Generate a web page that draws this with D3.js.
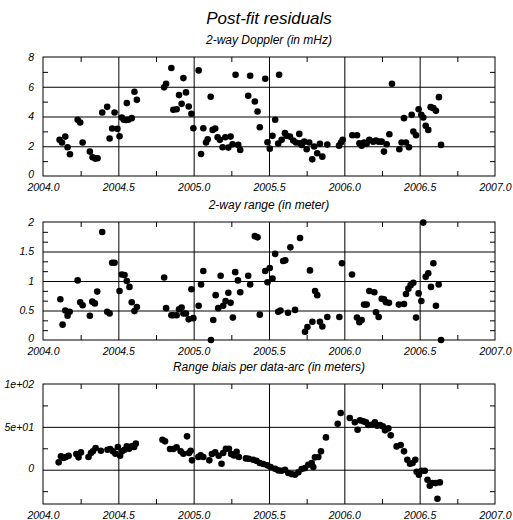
<!DOCTYPE html>
<html>
<head>
<meta charset="utf-8">
<script src="https://cdn.jsdelivr.net/npm/d3@7"></script>
<style>
  body { margin: 0; background: #fff; }
  text { font-family: "Liberation Sans", Arial, sans-serif; font-style: italic; fill: #000; }
</style>
</head>
<body>
<svg id="chart" width="513" height="520"></svg>
<script>
// 2-way Doppler residuals (mHz)
var dopplerT = [2004.110,2004.126,2004.148,2004.163,2004.179,2004.230,2004.247,2004.263,2004.311,2004.329,2004.347,2004.362,
  2004.393,2004.426,2004.442,2004.459,2004.475,2004.494,2004.508,2004.523,2004.536,2004.556,2004.552,2004.567,2004.589,2004.607,2004.623,
  2004.804,2004.817,2004.852,2004.865,2004.887,2004.903,2004.920,2004.932,2004.949,2004.967,2004.985,2004.998,
  2005.033,2005.049,2005.064,2005.082,2005.093,2005.113,2005.126,2005.143,2005.159,2005.174,2005.192,2005.210,2005.230,2005.245,2005.258,
  2005.278,2005.296,2005.309,2005.362,2005.375,2005.406,2005.424,2005.439,2005.475,2005.490,2005.505,2005.523,2005.541,2005.561,2005.567,
  2005.584,2005.606,2005.617,2005.639,2005.661,2005.679,2005.701,2005.706,2005.717,2005.734,2005.750,2005.767,2005.787,2005.800,2005.820,
  2005.838,2005.854,2005.887,2005.965,2005.978,2005.989,2006.053,2006.084,2006.100,2006.115,2006.131,2006.148,2006.166,2006.192,2006.210,
  2006.228,2006.248,2006.263,2006.281,2006.299,2006.316,2006.365,2006.380,2006.396,2006.409,2006.429,2006.447,2006.458,2006.476,2006.493,
  2006.511,2006.524,2006.540,2006.557,2006.573,2006.591,2006.608,2006.628,2006.642];
var dopplerV = [2.43,2.25,2.65,1.93,1.46,3.78,3.60,2.25,1.64,1.26,1.17,1.19,
  4.27,4.65,2.52,3.19,4.27,3.17,2.67,3.93,3.78,4.90,3.76,3.78,3.89,5.66,5.12,
  5.96,6.20,7.26,4.45,4.49,5.44,4.85,6.58,5.62,4.67,4.18,3.21,
  7.10,1.48,3.21,2.25,2.47,5.33,3.10,3.19,2.61,2.43,1.93,2.61,1.91,2.65,2.13,
  6.81,2.09,1.75,5.39,6.74,5.01,4.34,3.28,6.54,2.27,1.84,2.70,3.78,2.18,6.81,
  2.43,2.88,2.70,2.65,2.38,2.25,2.83,2.20,2.09,2.31,1.80,2.25,1.12,1.98,1.53,
  2.16,1.30,2.11,2.04,2.25,2.43,2.74,2.74,2.20,2.04,2.25,2.16,2.43,2.31,2.38,
  2.31,2.31,1.64,2.13,2.81,6.20,1.80,2.25,3.89,2.25,1.93,4.11,2.99,2.74,4.49,
  4.11,3.93,3.37,3.10,4.63,4.56,4.38,5.30,2.09];

// 2-way range residuals (m)
var rangeT = [2004.115,2004.130,2004.148,2004.163,2004.177,2004.230,2004.247,2004.263,2004.311,2004.327,2004.344,2004.360,
  2004.393,2004.426,2004.442,2004.459,2004.475,2004.508,2004.523,2004.541,2004.556,2004.574,2004.589,2004.607,2004.623,
  2004.804,2004.817,2004.852,2004.865,2004.887,2004.903,2004.920,2004.932,2004.949,2004.967,2004.985,2004.998,
  2005.033,2005.049,2005.064,2005.115,2005.130,2005.146,2005.163,2005.179,2005.196,2005.212,2005.230,2005.245,2005.260,
  2005.276,2005.294,2005.309,2005.362,2005.375,2005.406,2005.424,2005.439,2005.475,2005.490,2005.505,2005.523,2005.541,
  2005.561,2005.576,2005.594,2005.608,2005.626,2005.642,2005.673,2005.706,2005.739,2005.755,2005.772,2005.788,2005.806,
  2005.820,2005.838,2005.854,2005.887,2005.967,2005.984,2006.051,2006.084,2006.100,2006.115,2006.131,2006.148,2006.166,
  2006.199,2006.210,2006.228,2006.248,2006.263,2006.276,2006.296,2006.362,2006.396,2006.409,2006.425,2006.440,2006.458,
  2006.476,2006.493,2006.511,2006.524,2006.540,2006.557,2006.575,2006.591,2006.608,2006.626,2006.642];
var rangeV = [0.69,0.26,0.50,0.41,0.48,1.01,0.64,0.59,0.41,0.65,0.62,0.82,
  1.83,0.48,0.45,1.31,1.31,0.83,1.11,1.10,1.00,0.90,0.64,0.49,0.56,
  1.06,0.54,0.42,0.42,0.42,0.52,0.55,0.45,0.45,0.35,0.86,0.37,
  0.58,0.94,1.17,0.00,0.34,0.76,0.54,1.09,0.58,0.66,0.80,0.63,0.38,
  1.15,1.01,0.81,1.09,0.94,1.76,1.74,0.43,1.17,0.98,1.22,1.04,1.46,
  0.48,0.50,1.34,1.35,0.46,1.57,0.51,1.73,0.14,0.22,1.18,0.31,0.83,
  0.76,0.31,0.23,0.39,0.39,1.30,1.11,0.38,0.30,0.34,0.60,0.60,0.83,
  0.81,0.47,0.39,0.70,0.69,0.64,0.63,0.60,0.61,0.78,0.87,0.93,0.97,
  0.38,0.79,0.66,1.99,1.07,1.13,0.90,1.30,0.58,0.94,0.00];

// range bias per data-arc (m)
var biasT = [2004.104,2004.119,2004.137,2004.152,2004.170,2004.221,2004.236,2004.252,2004.302,2004.318,2004.331,2004.349,
  2004.384,2004.428,2004.446,2004.464,2004.481,2004.497,2004.512,2004.525,2004.541,2004.556,2004.572,2004.589,2004.605,2004.616,
  2004.793,2004.810,2004.843,2004.865,2004.887,2004.914,2004.932,2004.956,2004.969,2004.980,2004.989,
  2005.031,2005.046,2005.064,2005.104,2005.121,2005.143,2005.166,2005.185,2005.196,2005.214,2005.234,2005.249,2005.267,2005.285,2005.300,
  2005.347,2005.366,2005.395,2005.417,2005.439,2005.462,2005.489,2005.511,2005.540,2005.562,2005.584,2005.606,2005.628,2005.650,
  2005.672,2005.695,2005.717,2005.739,2005.761,2005.783,2005.794,2005.805,2005.827,2005.845,2005.878,2005.956,2005.976,
  2006.036,2006.070,2006.088,2006.104,2006.126,2006.144,2006.159,2006.181,2006.203,2006.219,2006.237,2006.255,2006.270,2006.292,2006.308,
  2006.347,2006.374,2006.396,2006.418,2006.436,2006.453,2006.471,2006.480,2006.495,2006.512,2006.534,2006.552,2006.567,2006.585,2006.607,
  2006.618,2006.634];
var biasV = [8.6,15.6,13.6,14.8,16.3,18.3,14.4,20.2,14.8,19.5,21.4,25.3,
  22.2,23.3,24.1,21.4,18.7,26.5,16.3,21.4,23.3,27.2,24.5,27.2,26.5,30.4,
  35.0,33.1,24.1,24.1,26.1,21.4,18.7,38.9,19.5,22.2,10.9,
  14.8,16.7,14.8,10.9,18.3,20.2,16.3,7.0,19.5,24.5,24.5,18.3,16.7,21.0,14.8,
  13.2,12.8,11.7,10.5,7.8,6.6,5.1,3.1,1.2,-0.8,-1.2,0.0,-3.9,-5.1,
  -5.8,-3.1,0.8,1.9,5.8,7.8,3.1,14.4,14.8,21.4,37.7,53.7,66.1,
  60.3,55.3,46.7,57.6,56.4,55.3,52.1,52.5,55.3,51.4,52.1,50.6,45.9,48.2,40.1,
  27.2,28.8,21.4,11.7,7.0,7.8,11.7,-2.3,-5.8,-1.2,-1.2,-11.7,-18.7,-15.6,-15.6,
  -33.9,-14.8];

var xTicks = [2004.0, 2004.5, 2005.0, 2005.5, 2006.0, 2006.5, 2007.0];
var xMinor = [2004.25, 2004.75, 2005.25, 2005.75, 2006.25, 2006.75];

var dopplerTicks = [0, 2, 4, 6, 8];
var dopplerMinor = [1, 3, 5, 7];
var rangeTicks = [0, 0.5, 1, 1.5, 2];
var rangeMinor = [1/6, 2/6, 4/6, 5/6, 7/6, 8/6, 10/6, 11/6];
var biasTicks = [0, 50, 100];
var biasTickLabels = ["0", "5e+01", "1e+02"];
var biasMinor = [-25, 25, 75];

var svg = d3.select("#chart");
var left = 43, right = 495;

svg.append("text")
    .attr("x", (left + right) / 2).attr("y", 24)
    .attr("text-anchor", "middle")
    .style("font-size", "17px")
    .text("Post-fit residuals");

var x = d3.scaleLinear().domain([2004, 2007]).range([left, right]);

function noDomain(a){ a.select(".domain").remove(); }

function panel(opt){
    var top = opt.top, bottom = opt.bottom;
    var y = d3.scaleLinear().domain(opt.domain).range([bottom, top]);
    var g = svg.append("g");
    var h = bottom - top, w = right - left;

    g.append("text")
        .attr("x", (left + right) / 2).attr("y", top - 13)
        .attr("text-anchor", "middle")
        .style("font-size", "12px")
        .text(opt.title);

    // grid lines
    var inner = opt.ticks.filter(function(d){ return d > opt.domain[0] && d < opt.domain[1]; });
    g.append("g")
        .attr("transform", "translate(0," + bottom + ")")
        .call(d3.axisBottom(x).tickValues(xTicks.slice(1, -1)).tickSize(-h).tickFormat(""))
        .call(noDomain);
    g.append("g")
        .attr("transform", "translate(" + left + ",0)")
        .call(d3.axisLeft(y).tickValues(inner).tickSize(-w).tickFormat(""))
        .call(noDomain);

    // minor ticks, pointing inward
    g.append("g").attr("transform", "translate(0," + bottom + ")")
        .call(d3.axisBottom(x).tickValues(xMinor).tickSize(-5).tickFormat(""))
        .call(noDomain);
    g.append("g").attr("transform", "translate(0," + top + ")")
        .call(d3.axisTop(x).tickValues(xMinor).tickSize(-5).tickFormat(""))
        .call(noDomain);
    g.append("g").attr("transform", "translate(" + left + ",0)")
        .call(d3.axisLeft(y).tickValues(opt.minor).tickSize(-5).tickFormat(""))
        .call(noDomain);
    g.append("g").attr("transform", "translate(" + right + ",0)")
        .call(d3.axisRight(y).tickValues(opt.minor).tickSize(-5).tickFormat(""))
        .call(noDomain);

    // tick labels
    g.append("g").attr("transform", "translate(0," + (bottom + 3) + ")")
        .call(d3.axisBottom(x).tickValues(xTicks).tickSize(0).tickFormat(d3.format(".1f")))
        .call(noDomain)
        .selectAll("text").attr("dy", "0.85em");
    var yl = g.append("g").attr("transform", "translate(" + (left - 6) + ",0)")
        .call(d3.axisLeft(y).tickValues(opt.ticks).tickSize(0).tickFormat(opt.fmt))
        .call(noDomain);
    // lowest label sits a touch higher so it clears the year labels
    yl.selectAll("text").filter(function(d){ return d === opt.ticks[0]; }).attr("dy", "0.15em");

    g.selectAll(".tick line").attr("stroke", "#000");
    g.selectAll(".tick text").style("font-size", "10.5px").style("font-family", null);

    g.append("rect")
        .attr("x", left).attr("y", top).attr("width", w).attr("height", h)
        .attr("fill", "none").attr("stroke", "#000");

    g.append("g").selectAll("circle")
        .data(opt.t)
        .enter().append("circle")
        .attr("cx", function(d){ return x(d); })
        .attr("cy", function(d, i){ return y(opt.v[i]); })
        .attr("r", 3.3)
        .attr("fill", "#000");
}

panel({ top: 57, bottom: 176, domain: [0, 8], title: "2-way Doppler (in mHz)",
    ticks: dopplerTicks, minor: dopplerMinor, fmt: d3.format("d"), t: dopplerT, v: dopplerV });
panel({ top: 222, bottom: 340, domain: [0, 2], title: "2-way range (in meter)",
    ticks: rangeTicks, minor: rangeMinor, fmt: function(d){ return String(d); }, t: rangeT, v: rangeV });
panel({ top: 384, bottom: 504, domain: [-40, 100], title: "Range biais per data-arc (in meters)",
    ticks: biasTicks, minor: biasMinor, fmt: function(d, i){ return biasTickLabels[i]; }, t: biasT, v: biasV });
</script>
</body>
</html>
